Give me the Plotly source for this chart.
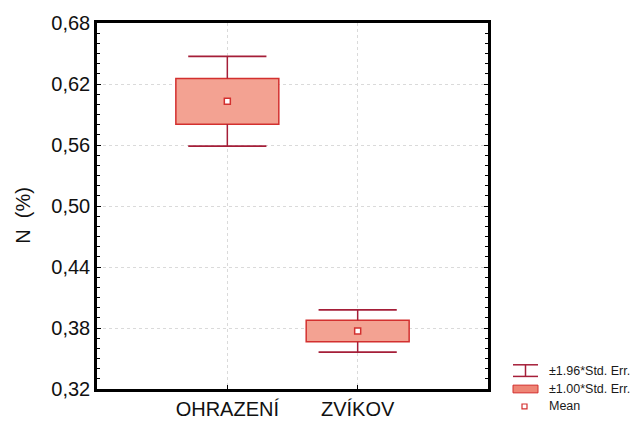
import plotly.graph_objects as go

categories = ["OHRAZENÍ", "ZVÍKOV"]
means = [0.603, 0.377]
std_err = [0.0225, 0.0106]
y_ticks = [0.32, 0.38, 0.44, 0.50, 0.56, 0.62, 0.68]
legend_labels = ["±1.96*Std. Err.", "±1.00*Std. Err.", "Mean"]

BOX_FILL = "#F3A292"
BOX_LINE = "#D3302F"
WHISK = "#A51E38"

xpos = list(range(len(categories)))
cap_half = 0.3

# plot area in pixels
L, R, T, B = 97, 488, 22, 400
W, H = 639, 432


def px(x, y):
    return (x - L) / (R - L), (B - y) / (B - T)


fig = go.Figure()

# boxes: mean ± 1 SE
fig.add_trace(go.Bar(
    x=xpos,
    base=[m - s for m, s in zip(means, std_err)],
    y=[2 * s for s in std_err],
    width=0.79,
    marker=dict(color=BOX_FILL, line=dict(color=BOX_LINE, width=1.5)),
    showlegend=False, hoverinfo="skip",
))

# whisker stems and caps: mean ± 1.96 SE
sx, sy, cx, cy = [], [], [], []
for x, m, s in zip(xpos, means, std_err):
    for sign in (1, -1):
        sx += [x, x, None]
        sy += [m + sign * s, m + sign * 1.96 * s, None]
        cx += [x - cap_half, x + cap_half, None]
        cy += [m + sign * 1.96 * s, m + sign * 1.96 * s, None]
fig.add_trace(go.Scatter(x=sx, y=sy, mode="lines", line=dict(color=WHISK, width=1.5),
                         showlegend=False, hoverinfo="skip"))
fig.add_trace(go.Scatter(x=cx, y=cy, mode="lines", line=dict(color=WHISK, width=1.8),
                         showlegend=False, hoverinfo="skip"))

# means
fig.add_trace(go.Scatter(x=xpos, y=means, mode="markers",
                         marker=dict(symbol="square", size=6, color="white",
                                     line=dict(color=BOX_LINE, width=1.5)),
                         showlegend=False, hoverinfo="skip"))

# custom legend
shapes = []
annotations = []
rows_y = [381, 400, 418]
x0, x1 = px(513, 0)[0], px(538, 0)[0]
xc = px(525.5, 0)[0]
# row 1: whisker icon
ya, yb = px(0, 375)[1], px(0, 387)[1]
shapes += [
    dict(type="line", xref="paper", yref="paper", x0=x0, x1=x1, y0=ya, y1=ya, line=dict(color=WHISK, width=1.5)),
    dict(type="line", xref="paper", yref="paper", x0=x0, x1=x1, y0=yb, y1=yb, line=dict(color=WHISK, width=1.5)),
    dict(type="line", xref="paper", yref="paper", x0=xc, x1=xc, y0=ya, y1=yb, line=dict(color=WHISK, width=1.5)),
]
# row 2: box icon
shapes.append(dict(type="rect", xref="paper", yref="paper", x0=x0, x1=x1,
                   y0=px(0, 396)[1], y1=px(0, 404)[1],
                   fillcolor="#EE8575", line=dict(color=BOX_LINE, width=1)))
# row 3: mean icon
shapes.append(dict(type="rect", xref="paper", yref="paper", x0=px(522, 0)[0], x1=px(527, 0)[0],
                   y0=px(0, 415.5)[1], y1=px(0, 420.5)[1],
                   fillcolor="white", line=dict(color=BOX_LINE, width=1.2)))
for lab, ry in zip(legend_labels, rows_y):
    annotations.append(dict(text=lab, xref="paper", yref="paper", x=px(547, 0)[0], y=px(0, ry)[1],
                            xanchor="left", yanchor="middle", showarrow=False,
                            font=dict(size=12.5, color="#1a1a1a", family="Liberation Sans, Arial")))

# y-axis title
tx, ty = px(23, 221)
annotations.append(dict(text="N  (%)", xref="paper", yref="paper", x=tx, y=ty, textangle=-90,
                        xanchor="center", yanchor="middle", showarrow=False,
                        font=dict(size=20, color="#111111", family="Liberation Sans, Arial")))

fig.update_layout(
    width=W, height=H,
    margin=dict(l=L, r=W - R, t=T, b=H - B),
    paper_bgcolor="white", plot_bgcolor="white",
    separators=",.",
    font=dict(family="Liberation Sans, Arial", color="#111111"),
    shapes=shapes, annotations=annotations,
    xaxis=dict(
        range=[-1, 2], tickvals=xpos, ticktext=categories,
        showline=True, linecolor="black", linewidth=2.5, mirror=True,
        ticks="inside", ticklen=4, tickcolor="black",
        showgrid=True, gridcolor="#dadada", griddash="dot", gridwidth=1,
        tickfont=dict(size=20), zeroline=False,
    ),
    yaxis=dict(
        range=[0.32, 0.68], tickvals=y_ticks, tickformat=".2f",
        showline=True, linecolor="black", linewidth=2.5, mirror="allticks",
        ticks="inside", ticklen=4, tickcolor="black",
        minor=dict(dtick=0.01, tick0=0.32, ticks="inside", ticklen=3, tickcolor="black", showgrid=False),
        showgrid=True, gridcolor="#dadada", griddash="dot", gridwidth=1,
        tickfont=dict(size=20), zeroline=False,
    ),
    showlegend=False,
)

fig.write_html("out.html")
